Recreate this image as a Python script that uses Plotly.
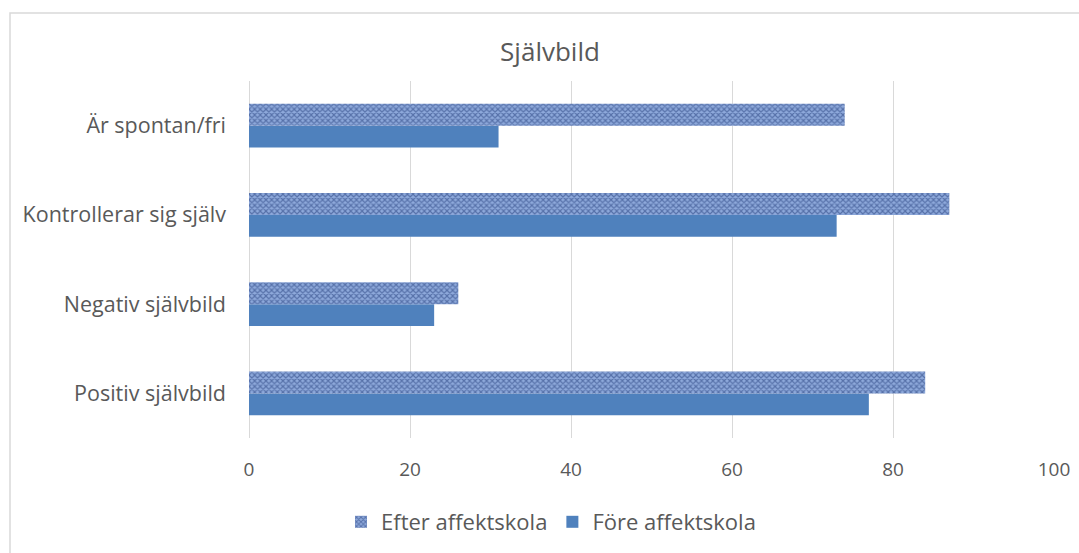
import plotly.graph_objects as go

categories = ["Positiv självbild", "Negativ självbild", "Kontrollerar sig själv", "Är spontan/fri"]
fore = [77, 23, 73, 31]
efter = [84, 26, 87, 74]
x_ticks = [0, 20, 40, 60, 80, 100]
title = "Självbild"

FONT = "Open Sans, Lato, Liberation Sans, sans-serif"
GRAY = "#595959"

fig = go.Figure()
fig.add_trace(go.Bar(
    y=categories, x=fore, orientation="h", name="Före affektskola",
    marker=dict(color="#4F81BD", line=dict(width=0)),
))
fig.add_trace(go.Bar(
    y=categories, x=efter, orientation="h", name="Efter affektskola",
    marker=dict(color="#7F9FD6", line=dict(width=0),
                pattern=dict(shape="x", fgcolor="#1F3A78", bgcolor="#8EA9DB",
                             size=4, solidity=0.5)),
))

fig.update_layout(
    width=1079, height=553,
    margin=dict(l=249, r=25, t=81, b=115, autoexpand=False),
    paper_bgcolor="white", plot_bgcolor="white",
    barmode="group", bargap=0.51, bargroupgap=0,
    title=dict(text=title, x=550 / 1079, xanchor="center", xref="container",
               y=1 - 52 / 553, yanchor="middle",
               font=dict(family=FONT, size=26, color=GRAY)),
    font=dict(family=FONT, size=20, color=GRAY),
    showlegend=True,
    legend=dict(orientation="h", traceorder="reversed",
                x=(551 - 249) / 805, xanchor="center", xref="paper",
                y=-(522 - 438) / 357, yanchor="middle",
                font=dict(family=FONT, size=22, color=GRAY),
                itemwidth=30),
    xaxis=dict(range=[0, 100], tickvals=x_ticks, showgrid=True,
               gridcolor="#D9D9D9", gridwidth=1, zeroline=True,
               zerolinecolor="#D9D9D9", zerolinewidth=1, showline=False,
               ticks="", ticklabelstandoff=18,
               tickfont=dict(family=FONT, size=19, color=GRAY)),
    yaxis=dict(categoryorder="array", categoryarray=categories,
               showgrid=False, showline=False, zeroline=False, ticks="",
               ticklabelstandoff=22,
               tickfont=dict(family=FONT, size=21.5, color=GRAY)),
    shapes=[dict(type="rect", xref="paper", yref="paper",
                 x0=(10 - 249) / 805, x1=(1100 - 249) / 805,
                 y0=(438 - 580) / 357, y1=(438 - 13) / 357,
                 line=dict(color="#D9D9D9", width=1.5),
                 fillcolor="rgba(0,0,0,0)", layer="below")],
)

fig.write_html("out.html")
